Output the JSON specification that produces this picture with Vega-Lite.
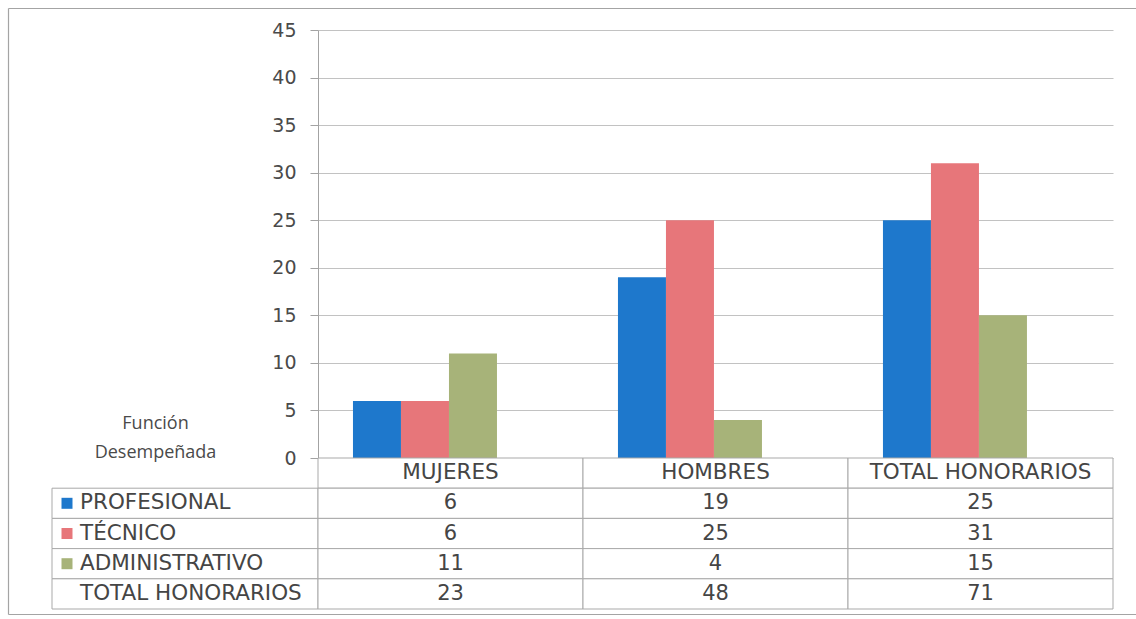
{
  "$schema": "https://vega.github.io/schema/vega-lite/v6.json",
  "background": "white",
  "padding": {"left": 8, "top": 8, "right": 0, "bottom": 0},
  "config": {
    "view": {"stroke": null},
    "font": "DejaVu Sans"
  },
  "datasets": {
    "datos": [
      {"grupo": "MUJERES", "funcion": "PROFESIONAL", "n": 6},
      {"grupo": "MUJERES", "funcion": "TÉCNICO", "n": 6},
      {"grupo": "MUJERES", "funcion": "ADMINISTRATIVO", "n": 11},
      {"grupo": "MUJERES", "funcion": "TOTAL HONORARIOS", "n": 23},
      {"grupo": "HOMBRES", "funcion": "PROFESIONAL", "n": 19},
      {"grupo": "HOMBRES", "funcion": "TÉCNICO", "n": 25},
      {"grupo": "HOMBRES", "funcion": "ADMINISTRATIVO", "n": 4},
      {"grupo": "HOMBRES", "funcion": "TOTAL HONORARIOS", "n": 48},
      {"grupo": "TOTAL HONORARIOS", "funcion": "PROFESIONAL", "n": 25},
      {"grupo": "TOTAL HONORARIOS", "funcion": "TÉCNICO", "n": 31},
      {"grupo": "TOTAL HONORARIOS", "funcion": "ADMINISTRATIVO", "n": 15},
      {"grupo": "TOTAL HONORARIOS", "funcion": "TOTAL HONORARIOS", "n": 71}
    ],
    "grupos": [
      {"grupo": "MUJERES"},
      {"grupo": "HOMBRES"},
      {"grupo": "TOTAL HONORARIOS"}
    ],
    "filas": [
      {"funcion": "PROFESIONAL"},
      {"funcion": "TÉCNICO"},
      {"funcion": "ADMINISTRATIVO"},
      {"funcion": "TOTAL HONORARIOS"}
    ]
  },
  "columns": 2,
  "spacing": 0,
  "bounds": "flush",
  "align": "each",
  "concat": [
    {
      "width": 266,
      "height": 428,
      "data": {"values": []},
      "layer": [
        {
          "mark": "point",
          "encoding": {
            "x": {
              "datum": 0, "type": "quantitative",
              "scale": {"domain": [0, 1], "range": [-44, 1084]},
              "axis": {"orient": "top", "offset": 22, "labels": false, "ticks": false, "grid": false, "title": null, "domainColor": "#a4a4a4", "domainWidth": 1.2}
            },
            "y": {
              "datum": 0, "type": "quantitative",
              "scale": {"domain": [0, 1], "range": [584, -22]},
              "axis": {"orient": "left", "offset": 44, "labels": false, "ticks": false, "grid": false, "title": null, "domainColor": "#a4a4a4", "domainWidth": 1.2}
            }
          }
        },
        {
          "mark": "point",
          "encoding": {
            "x": {
              "datum": 0, "type": "quantitative",
              "scale": {"domain": [0, 1], "range": [-44, 1084]},
              "axis": {"orient": "bottom", "offset": 156, "labels": false, "ticks": false, "grid": false, "title": null, "domainColor": "#a4a4a4", "domainWidth": 1.2}
            }
          }
        }
      ],
      "resolve": {"scale": {"x": "independent"}, "axis": {"x": "independent"}}
    },
    {
      "width": 795,
      "height": 428,
      "data": {"name": "datos"},
      "transform": [{"filter": {"field": "funcion", "oneOf": ["PROFESIONAL", "TÉCNICO", "ADMINISTRATIVO"]}}],
      "mark": {"type": "bar"},
      "encoding": {
        "x": {
          "field": "grupo", "type": "nominal",
          "scale": {"domain": ["MUJERES", "HOMBRES", "TOTAL HONORARIOS"], "paddingInner": 0.0943, "paddingOuter": 0.0472},
          "axis": null
        },
        "xOffset": {
          "field": "funcion", "type": "nominal",
          "scale": {"domain": ["PROFESIONAL", "TÉCNICO", "ADMINISTRATIVO"], "paddingInner": 0, "paddingOuter": 1, "align": 0.234}
        },
        "y": {
          "field": "n", "type": "quantitative",
          "scale": {"domain": [0, 45], "nice": false},
          "axis": {
            "values": [0, 5, 10, 15, 20, 25, 30, 35, 40, 45],
            "grid": true,
            "gridColor": "#c2c2c2",
            "gridWidth": 1,
            "domain": true,
            "domainColor": "#a3a3a3",
            "ticks": true,
            "tickColor": "#a3a3a3",
            "tickSize": 8,
            "labelPadding": 14,
            "labelFont": "DejaVu Sans",
            "labelFontSize": 19,
            "labelColor": "#4a4a4a",
            "title": ["Función", "Desempeñada"],
            "titleAngle": 0,
            "titleX": -163,
            "titleY": 393,
            "titleAlign": "center",
            "titleBaseline": "middle",
            "titleFont": "Open Sans",
            "titleFontSize": 18,
            "titleFontWeight": "normal",
            "titleLineHeight": 29,
            "titleColor": "#4a4a4a"
          }
        },
        "color": {
          "field": "funcion", "type": "nominal",
          "scale": {"domain": ["PROFESIONAL", "TÉCNICO", "ADMINISTRATIVO"], "range": ["#1E78CC", "#E7767A", "#A7B379"]},
          "legend": null
        }
      }
    },
    {
      "width": 266,
      "height": 151,
      "data": {"name": "filas"},
      "encoding": {
        "x": {
          "datum": "FUNCIÓN", "type": "nominal",
          "scale": {"domain": ["FUNCIÓN"], "paddingInner": 0, "paddingOuter": 0},
          "axis": null
        },
        "y": {
          "field": "funcion", "type": "nominal",
          "scale": {"domain": ["ENCABEZADO", "PROFESIONAL", "TÉCNICO", "ADMINISTRATIVO", "TOTAL HONORARIOS"], "paddingInner": 0, "paddingOuter": 0},
          "axis": null
        }
      },
      "layer": [
        {
          "mark": {"type": "rect", "fill": "white", "stroke": "#a9a9a9", "strokeWidth": 1}
        },
        {
          "mark": {"type": "text", "font": "DejaVu Sans", "fontSize": 21.5, "color": "#454545", "baseline": "middle", "align": "left", "dx": 28},
          "encoding": {
            "x": {"datum": "FUNCIÓN", "type": "nominal", "bandPosition": 0},
            "text": {"field": "funcion", "type": "nominal"}
          }
        },
        {
          "transform": [{"filter": {"field": "funcion", "oneOf": ["PROFESIONAL", "TÉCNICO", "ADMINISTRATIVO"]}}],
          "mark": {"type": "point", "shape": "square", "filled": true, "opacity": 1, "size": 121, "xOffset": 15},
          "encoding": {
            "x": {"datum": "FUNCIÓN", "type": "nominal", "bandPosition": 0},
            "color": {
              "field": "funcion", "type": "nominal",
              "scale": {"domain": ["PROFESIONAL", "TÉCNICO", "ADMINISTRATIVO"], "range": ["#1E78CC", "#E7767A", "#A7B379"]},
              "legend": null
            }
          }
        }
      ]
    },
    {
      "width": 795,
      "height": 151,
      "encoding": {
        "x": {
          "field": "grupo", "type": "nominal",
          "scale": {"domain": ["MUJERES", "HOMBRES", "TOTAL HONORARIOS"], "paddingInner": 0, "paddingOuter": 0},
          "axis": null
        },
        "y": {
          "field": "funcion", "type": "nominal",
          "scale": {"domain": ["ENCABEZADO", "PROFESIONAL", "TÉCNICO", "ADMINISTRATIVO", "TOTAL HONORARIOS"], "paddingInner": 0, "paddingOuter": 0},
          "axis": null
        }
      },
      "layer": [
        {
          "data": {"name": "grupos"},
          "mark": {"type": "rect", "fill": "white", "stroke": "#a9a9a9", "strokeWidth": 1},
          "encoding": {
            "y": {"datum": "ENCABEZADO", "type": "nominal"}
          }
        },
        {
          "data": {"name": "datos"},
          "mark": {"type": "rect", "fill": "white", "stroke": "#a9a9a9", "strokeWidth": 1}
        },
        {
          "data": {"name": "datos"},
          "mark": {"type": "text", "font": "DejaVu Sans", "fontSize": 21, "color": "#454545", "baseline": "middle", "align": "center"},
          "encoding": {
            "text": {"field": "n", "type": "quantitative"}
          }
        },
        {
          "data": {"name": "grupos"},
          "mark": {"type": "text", "font": "DejaVu Sans", "fontSize": 21.5, "color": "#454545", "baseline": "middle", "align": "center"},
          "encoding": {
            "y": {"datum": "ENCABEZADO", "type": "nominal"},
            "text": {"field": "grupo", "type": "nominal"}
          }
        }
      ]
    }
  ]
}
